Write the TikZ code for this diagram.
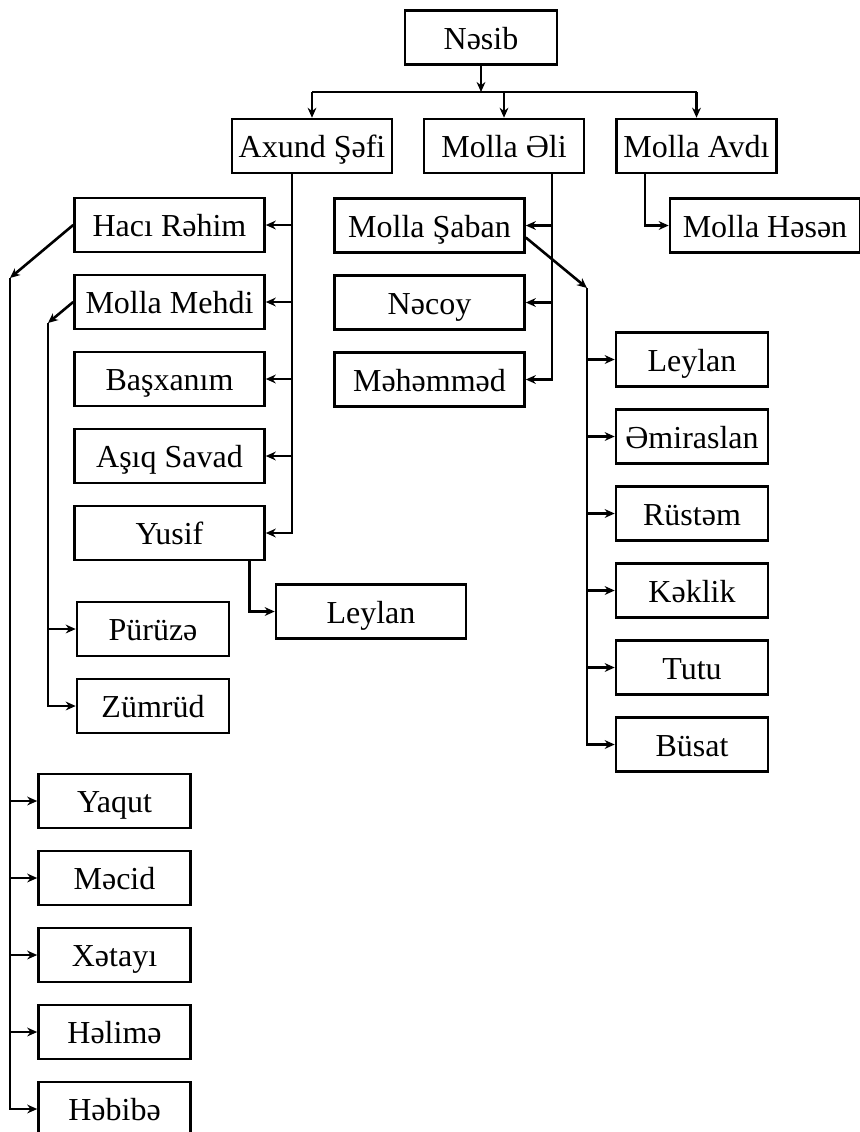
\documentclass[tikz,border=0pt]{standalone}
\usepackage{fontspec}
\setmainfont{Liberation Serif}
\usetikzlibrary{positioning, arrows.meta}

\begin{document}
\begin{tikzpicture}[
        x=0.5pt, y=-0.5pt,
        node distance=10.2pt and 10.2pt,
        base/.style={draw, line width=1.3pt, align=center, font=\fontsize{16}{19}\selectfont, inner sep=2pt, minimum height=27pt, text height=13pt, text depth=1.5pt},
        narrow/.style={base, minimum width=76pt},
        mid/.style={base, minimum width=80pt},
        wide/.style={base, minimum width=95pt},
        link/.style={line width=1.3pt},
        arr/.style={link, -{Stealth[length=5pt, width=4.4pt]}}
    ]
    \useasboundingbox (0,0) rectangle (860,1132);

    \node[narrow] (nesib) at (481,37.5) {Nəsib};
    \node[mid] (axund) at (312,146) {Axund Şəfi};
    \node[mid] (eli) at (504,146) {Molla Əli};
    \node[mid] (avdi) at (696.5,146) {Molla Avdı};
    \node[wide] (hasan) at (765,225.5) {Molla Həsən};

    \node[wide] (haci) at (169.5,225) {Hacı Rəhim};
    \node[wide, below=of haci] (mehdi) {Molla Mehdi};
    \node[wide, below=of mehdi] (basxanim) {Başxanım};
    \node[wide, below=of basxanim] (asiq) {Aşıq Savad};
    \node[wide, below=of asiq] (yusif) {Yusif};

    \node[wide] (saban) at (429.5,225.5) {Molla Şaban};
    \node[wide, below=of saban] (necoy) {Nəcoy};
    \node[wide, below=of necoy] (mehemmed) {Məhəmməd};

    \node[narrow] (leylan1) at (692,359.5) {Leylan};
    \node[narrow, below=of leylan1] (emiraslan) {Əmiraslan};
    \node[narrow, below=of emiraslan] (rustem) {Rüstəm};
    \node[narrow, below=of rustem] (keklik) {Kəklik};
    \node[narrow, below=of keklik] (tutu) {Tutu};
    \node[narrow, below=of tutu] (busat) {Büsat};

    \node[wide] (leylan2) at (371,611.5) {Leylan};
    \node[narrow] (piruze) at (153,629) {Pürüzə};
    \node[narrow, below=of piruze] (zumrud) {Zümrüd};

    \node[narrow] (yaqut) at (114.5,801) {Yaqut};
    \node[narrow, below=of yaqut] (mecid) {Məcid};
    \node[narrow, below=of mecid] (xetayi) {Xətayı};
    \node[narrow, below=of xetayi] (helime) {Həlimə};
    \node[narrow, below=of helime] (hebibe) {Həbibə};

    % trunk points
    \coordinate (bar) at (481,92);
    \coordinate (axund-t) at ([xshift=-10pt]axund.south);
    \coordinate (eli-t) at ([xshift=24pt]eli.south);
    \coordinate (haci-t) at (10,278);
    \coordinate (mehdi-t) at (48,323);
    \coordinate (saban-t) at (587,288);

    \draw[arr] (nesib) -- (bar);
    \draw[link] (axund.north |- bar) -- (avdi.north |- bar);
    \draw[arr] (axund.north |- bar) -- (axund.north);
    \draw[arr] (eli.north |- bar) -- (eli.north);
    \draw[arr] (avdi.north |- bar) -- (avdi.north);

    \draw[arr] (axund-t) |- (yusif.east);
    \draw[arr] (axund-t |- haci.east) -- (haci.east); \draw[arr] (axund-t |- mehdi.east) -- (mehdi.east);
    \draw[arr] (axund-t |- basxanim.east) -- (basxanim.east); \draw[arr] (axund-t |- asiq.east) -- (asiq.east);

    \draw[arr] (eli-t) |- (mehemmed.east);
    \draw[arr] (eli-t |- saban.east) -- (saban.east); \draw[arr] (eli-t |- necoy.east) -- (necoy.east);

    \draw[arr] ([xshift=-25.75pt]avdi.south) |- (hasan.west);

    \draw[arr] ([yshift=-6pt]saban.east) -- (saban-t);
    \draw[arr] (saban-t) |- (busat.west);
    \draw[arr] (saban-t |- leylan1.west) -- (leylan1.west); \draw[arr] (saban-t |- emiraslan.west) -- (emiraslan.west);
    \draw[arr] (saban-t |- rustem.west) -- (rustem.west); \draw[arr] (saban-t |- keklik.west) -- (keklik.west);
    \draw[arr] (saban-t |- tutu.west) -- (tutu.west);

    \draw[arr] ([xshift=40pt]yusif.south) |- (leylan2.west);

    \draw[arr] (mehdi.west) -- (mehdi-t);
    \draw[arr] (mehdi-t) |- (zumrud.west);
    \draw[arr] (mehdi-t |- piruze.west) -- (piruze.west);

    \draw[arr] (haci.west) -- (haci-t);
    \draw[arr] (haci-t) |- (hebibe.west);
    \draw[arr] (haci-t |- yaqut.west) -- (yaqut.west); \draw[arr] (haci-t |- mecid.west) -- (mecid.west);
    \draw[arr] (haci-t |- xetayi.west) -- (xetayi.west); \draw[arr] (haci-t |- helime.west) -- (helime.west);
\end{tikzpicture}
\end{document}
